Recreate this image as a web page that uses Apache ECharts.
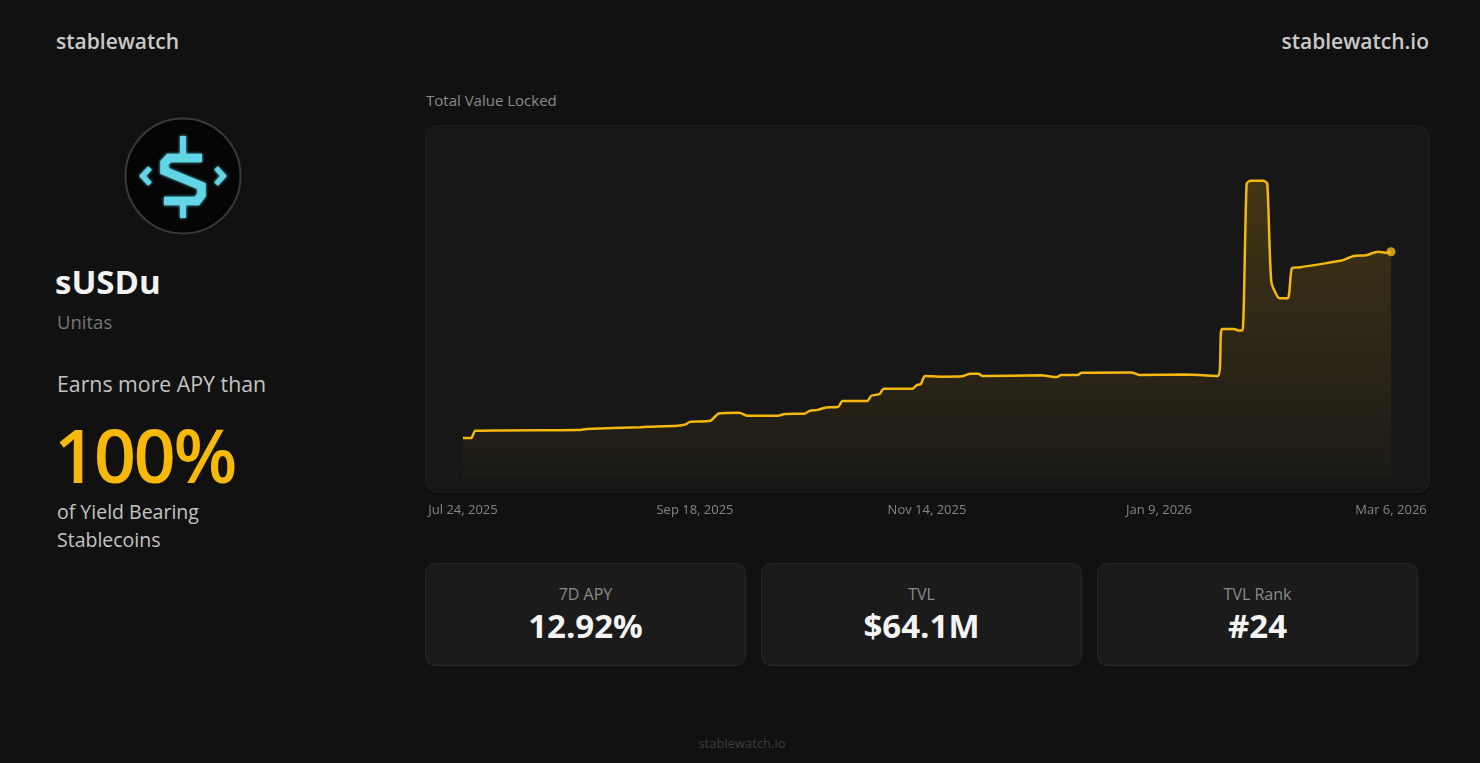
<!DOCTYPE html>
<html>
<head>
<meta charset="utf-8">
<script src="https://cdn.jsdelivr.net/npm/echarts@6/dist/echarts.min.js"></script>
<style>
  html, body { margin:0; padding:0; background:#111111; }
  body { width:1480px; height:763px; position:relative; overflow:hidden; font-family:"Open Sans","Noto Sans",sans-serif; }
  .abs { position:absolute; white-space:nowrap; }
  #brand { left:56px; top:26px; font-size:21px; font-weight:600; color:#c9c9c9; line-height:30px; }
  #site { right:51px; top:26px; font-size:21px; font-weight:600; color:#c9c9c9; line-height:30px; }
  #logo { left:123px; top:116px; width:120px; height:120px; }
  #name { left:55px; top:261px; font-size:33px; font-weight:700; color:#f2f2f2; line-height:42px; }
  #issuer { left:57px; top:309px; font-size:18.5px; color:#767676; line-height:26px; }
  #earns { left:57px; top:369px; font-size:21.3px; color:#c4c4c4; line-height:30px; }
  #pct { left:54px; top:410px; font-size:74px; font-weight:600; color:#f6b90a; line-height:90px; letter-spacing:-2.5px; }
  #of { left:57px; top:498px; font-size:19.5px; color:#c4c4c4; line-height:28px; white-space:normal; width:220px; }
  #ctitle { left:426px; top:90px; font-size:15px; font-weight:500; color:#8b8b8b; line-height:20px; }
  #panel { left:425px; top:125px; width:1003px; height:366px; background:#171717; border:1px solid #1e1e1e; border-radius:12px; box-shadow:0 1px 2px rgba(0,0,0,0.4); }
  #chart { left:425px; top:124px; width:1005px; height:400px; }
  .card { position:absolute; top:563px; width:319px; height:101px; background:#1b1b1b; border:1px solid #262626; border-radius:10px; text-align:center; }
  .card .lab { position:absolute; left:0; right:0; top:18px; font-size:16px; color:#8a8a8a; line-height:24px; font-weight:500; }
  .card .val { position:absolute; left:0; right:0; top:40px; font-size:33px; font-weight:700; color:#f4f4f4; line-height:44px; }
  #footer { left:0; width:1484px; text-align:center; top:734px; font-size:13px; color:#3c3c3c; line-height:18px; }
</style>
</head>
<body>
<div class="abs" id="brand">stablewatch</div>
<div class="abs" id="site">stablewatch.io</div>
<svg class="abs" id="logo" viewBox="123 116 120 120">
  <defs>
    <filter id="glow" x="-30%" y="-30%" width="160%" height="160%">
      <feGaussianBlur stdDeviation="1.6" result="b"/>
      <feMerge><feMergeNode in="b"/><feMergeNode in="SourceGraphic"/></feMerge>
    </filter>
  </defs>
  <circle cx="183" cy="176" r="57.5" fill="#050505" stroke="#3a3a3a" stroke-width="2"/>
  <g fill="none" stroke="#62d5e6" stroke-width="8.5" stroke-linejoin="miter" filter="url(#glow)">
    <path d="M202 158 L169 158 L164.5 163 L164.5 171 L201.5 186 L201.5 195 L197 201 L164 201"/>
    <path d="M183 136 L183 155" stroke-width="6"/>
    <path d="M183 204 L183 218" stroke-width="6"/>
    <path d="M150 168 L142.5 176 L150 184" stroke-width="5"/>
    <path d="M216 168 L223.5 176 L216 184" stroke-width="5"/>
  </g>
</svg>
<div class="abs" id="name">sUSDu</div>
<div class="abs" id="issuer">Unitas</div>
<div class="abs" id="earns">Earns more APY than</div>
<div class="abs" id="pct">100%</div>
<div class="abs" id="of">of Yield Bearing<br>Stablecoins</div>
<div class="abs" id="ctitle">Total Value Locked</div>
<div class="abs" id="panel"></div>
<div class="abs" id="chart"></div>
<div id="cards"></div>
<div class="abs" id="footer">stablewatch.io</div>

<script>
// ---- data (TVL in millions USD) ----
const dates = [
  '2025-07-24','2025-07-26','2025-07-27','2025-08-21','2025-08-23','2025-09-05','2025-09-07',
  '2025-09-14','2025-09-16','2025-09-17','2025-09-22','2025-09-24','2025-09-29','2025-10-01',
  '2025-10-08','2025-10-10','2025-10-15','2025-10-16','2025-10-18','2025-10-20','2025-10-23',
  '2025-10-24','2025-10-30','2025-10-31','2025-11-02','2025-11-03','2025-11-10','2025-11-11',
  '2025-11-12','2025-11-13','2025-11-17','2025-11-22','2025-11-24','2025-11-26','2025-11-27',
  '2025-12-11','2025-12-15','2025-12-16','2025-12-20','2025-12-21','2026-01-02','2026-01-04',
  '2026-01-15','2026-01-23','2026-01-24','2026-01-27','2026-01-28','2026-01-29','2026-01-30',
  '2026-01-31','2026-02-03','2026-02-04','2026-02-05','2026-02-07','2026-02-09','2026-02-10',
  '2026-02-12','2026-02-18','2026-02-21','2026-02-22','2026-02-25','2026-02-28','2026-03-02',
  '2026-03-03','2026-03-05','2026-03-06'
];
const tvlMillions = [
  11.3, 11.3, 13.4, 13.6, 13.9, 14.4, 14.5,
  14.8, 15.2, 15.9, 16.2, 18.3, 18.5, 17.6,
  17.6, 18.1, 18.3, 19.0, 19.3, 20.0, 20.2,
  21.8, 21.8, 23.3, 23.8, 25.3, 25.3, 26.3,
  26.6, 28.9, 28.7, 28.8, 29.5, 29.5, 28.9,
  29.1, 28.6, 29.2, 29.2, 29.8, 29.9, 29.2,
  29.3, 28.9, 42.2, 42.2, 41.8, 41.8, 83.4,
  84.2, 84.2, 83.4, 55.5, 50.9, 50.9, 59.5,
  59.7, 60.8, 61.4, 61.6, 62.9, 63.1, 63.9,
  64.1, 63.8, 64.1
];
const xTickLabels = ['Jul 24, 2025', 'Sep 18, 2025', 'Nov 14, 2025', 'Jan 9, 2026', 'Mar 6, 2026'];
const statLabels = ['7D APY', 'TVL', 'TVL Rank'];
const statValues = ['12.92%', '$64.1M', '#24'];

// ---- stat cards ----
const cardsEl = document.getElementById('cards');
statLabels.forEach((lab, i) => {
  const c = document.createElement('div');
  c.className = 'card';
  c.style.left = (425 + i * 336) + 'px';
  c.innerHTML = '<div class="lab">' + lab + '</div><div class="val">' + statValues[i] + '</div>';
  cardsEl.appendChild(c);
});

// ---- chart ----
const [y0, m0, d0] = dates[0].split('-').map(Number);
const t0 = Date.UTC(y0, m0 - 1, d0);
const dayIndex = s => { const [y, m, d] = s.split('-').map(Number); return Math.round((Date.UTC(y, m - 1, d) - t0) / 86400000); };
const seriesData = dates.map((s, i) => [dayIndex(s), tvlMillions[i]]);
const span = dayIndex(dates[dates.length - 1]);
const step = span / (xTickLabels.length - 1);

const chart = echarts.init(document.getElementById('chart'), null, { renderer: 'canvas' });
chart.setOption({
  animation: false,
  backgroundColor: 'transparent',
  grid: { left: 38, right: 39, top: 1, bottom: 46 },
  xAxis: {
    type: 'value', min: 0, max: span, interval: step,
    axisLine: { show: false }, axisTick: { show: false }, splitLine: { show: false },
    axisLabel: {
      color: '#858585', fontSize: 13, margin: 26, fontFamily: 'Open Sans',
      showMinLabel: true, showMaxLabel: true,
      formatter: v => xTickLabels[Math.round(v / step)] || ''
    }
  },
  yAxis: { type: 'value', min: 0, max: 100, show: false },
  series: [
    {
      type: 'line', data: seriesData, symbol: 'none', smooth: 0.2,
      lineStyle: { color: '#F5B80F', width: 2.5 },
      areaStyle: {
        color: new echarts.graphic.LinearGradient(0, 0, 0, 1, [
          { offset: 0, color: 'rgba(245,184,15,0.28)' },
          { offset: 1, color: 'rgba(245,184,15,0.03)' }
        ])
      }
    },
    {
      type: 'scatter', data: [seriesData[seriesData.length - 1]], symbolSize: 9,
      itemStyle: { color: '#F7BA12' }, z: 5
    }
  ]
});
</script>
</body>
</html>
